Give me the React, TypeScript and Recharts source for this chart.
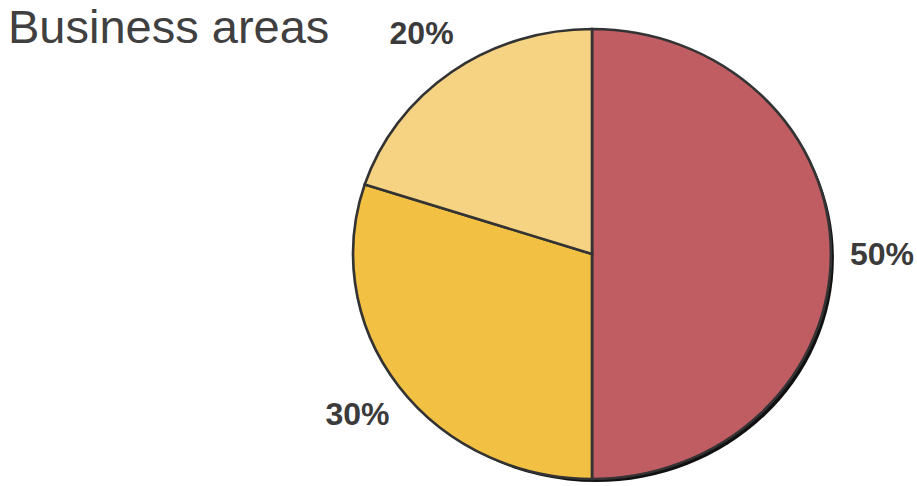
import React from "react";
import { PieChart, Pie, Cell } from "recharts";

const categories = ["Area A", "Area B", "Area C"];
const shares = [50, 30, 20];
const colors = ["#C05D63", "#F2C042", "#F5D383"];

const data = categories.map((name, i) => ({ name, value: shares[i] }));

const CX = 592;
const CY = 254;
const R = 225;
const SX = 1.062; // the reference pie is a bit wider than tall
const SH = 4; // shadow offset
const RAD = Math.PI / 180;

const renderLabel = (props: any) => {
  const { cx, cy, midAngle, value } = props;
  const r = 273;
  const x = cx + r * Math.cos(-midAngle * RAD) * SX;
  const y = cy + r * Math.sin(-midAngle * RAD);
  return (
    <text
      x={x}
      y={y}
      textAnchor="middle"
      dominantBaseline="central"
      fill="#3b3b3b"
      fontFamily="'Liberation Sans', Arial, sans-serif"
      fontWeight="bold"
      fontSize={32}
    >
      {`${value}%`}
    </text>
  );
};

export default function App() {
  return (
    <div style={{ position: "absolute", left: 0, top: 0, width: 917, height: 486, background: "#fff" }}>
      <style>{`
        .pie-main .recharts-pie-sector { transform-origin: ${CX}px ${CY}px; transform: scaleX(${SX}); }
        .pie-shadow .recharts-pie-sector { transform-origin: ${CX + SH}px ${CY + SH}px; transform: scaleX(${SX}); }
      `}</style>
      <div
        style={{
          position: "absolute",
          left: 8,
          top: 3,
          fontFamily: "'Liberation Sans', Arial, sans-serif",
          fontSize: 47,
          lineHeight: "47px",
          color: "#404040",
          zIndex: 2,
        }}
      >
        Business areas
      </div>
      <PieChart width={917} height={486} margin={{ top: 0, right: 0, bottom: 0, left: 0 }}>
        <Pie
          className="pie-shadow"
          data={data}
          dataKey="value"
          nameKey="name"
          cx={CX + SH}
          cy={CY + SH}
          outerRadius={R - 1}
          startAngle={90}
          endAngle={-270}
          stroke="none"
          fill="#111"
          isAnimationActive={false}
          labelLine={false}
        />
        <Pie
          className="pie-main"
          data={data}
          dataKey="value"
          nameKey="name"
          cx={CX}
          cy={CY}
          outerRadius={R}
          startAngle={90}
          endAngle={-270}
          stroke="#333"
          strokeWidth={2.5}
          isAnimationActive={false}
          labelLine={false}
          label={renderLabel}
        >
          {data.map((d, i) => (
            <Cell key={d.name} fill={colors[i]} />
          ))}
        </Pie>
      </PieChart>
    </div>
  );
}
